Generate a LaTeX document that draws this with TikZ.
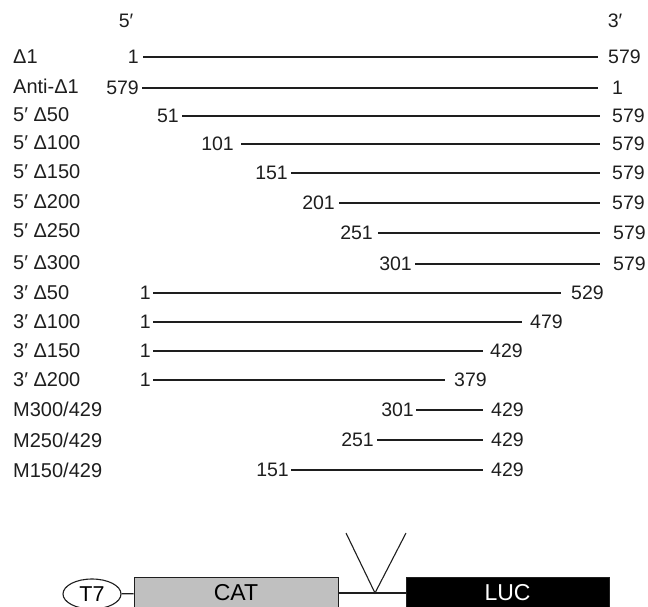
\documentclass[tikz,border=0pt]{standalone}
\usepackage{fontspec}
\setmainfont{Liberation Sans}
\usepackage{xcolor}
\usepackage{tikz}
\usetikzlibrary{shapes.geometric,positioning}
\definecolor{catgray}{RGB}{192,192,192}
\definecolor{inkgray}{RGB}{30,30,30}
\tikzset{
  rowlabel/.style={anchor=west, inner sep=0pt, text=inkgray, font=\fontsize{20}{24}\selectfont},
  endlabel/.style={inner sep=0pt, text=inkgray},
  numl/.style={inner sep=0pt, text=inkgray},
  numr/.style={inner sep=0pt, text=inkgray},
  seg/.style={line width=1.1pt, draw=inkgray},
  promoter/.style={ellipse, draw=inkgray, line width=1.1pt, minimum width=58pt, minimum height=30pt, inner sep=0pt, font=\fontsize{21.5}{24}\selectfont},
  genebox/.style={rectangle, draw=inkgray, line width=1pt, minimum height=32pt, inner sep=0pt, font=\fontsize{23}{26}\selectfont},
  catbox/.style={genebox, fill=catgray, minimum width=204pt},
  lucbox/.style={genebox, fill=black, text=white, minimum width=203pt}
}

\begin{document}
\begin{tikzpicture}[x=1pt, y=-1pt, font=\fontsize{19.5}{23}\selectfont]
\useasboundingbox (0,0) rectangle (648,607);
% strand ends
\node[endlabel] (five) at (126,21) {5′};
\node[endlabel] (three) at (615,21) {3′};

% full length and antisense
\node[rowlabel] (l1) at (13,57) {Δ1};
\coordinate (s1) at (143,57); \coordinate (e1) at (598,57);
\node[numl, left=4pt of s1] (n1) {1}; \node[numr, right=10pt of e1] (m1) {579};
\draw[seg] (s1) -- (e1);

\node[rowlabel] (l2) at (13,86) {Anti-Δ1};
\coordinate (s2) at (142,88); \coordinate (e2) at (598,88);
\node[numl, left=3pt of s2] (n2) {579}; \node[numr, right=14pt of e2] (m2) {1};
\draw[seg] (s2) -- (e2);

% 5' deletions
\node[rowlabel] (l3) at (13,115) {5′ Δ50};
\coordinate (s3) at (182,116); \coordinate (e3) at (600,116);
\node[numl, left=3pt of s3] (n3) {51}; \node[numr, right=12pt of e3] (m3) {579};
\draw[seg] (s3) -- (e3);

\node[rowlabel] (l4) at (13,143) {5′ Δ100};
\coordinate (s4) at (241,144); \coordinate (e4) at (600,144);
\node[numl, left=7pt of s4] (n4) {101}; \node[numr, right=12pt of e4] (m4) {579};
\draw[seg] (s4) -- (e4);

\node[rowlabel] (l5) at (13,172) {5′ Δ150};
\coordinate (s5) at (291,173); \coordinate (e5) at (600,173);
\node[numl, left=3pt of s5] (n5) {151}; \node[numr, right=12pt of e5] (m5) {579};
\draw[seg] (s5) -- (e5);

\node[rowlabel] (l6) at (13,202) {5′ Δ200};
\coordinate (s6) at (339,203); \coordinate (e6) at (600,203);
\node[numl, left=4pt of s6] (n6) {201}; \node[numr, right=12pt of e6] (m6) {579};
\draw[seg] (s6) -- (e6);

\node[rowlabel] (l7) at (13,231) {5′ Δ250};
\coordinate (s7) at (378,233); \coordinate (e7) at (600,233);
\node[numl, left=5pt of s7] (n7) {251}; \node[numr, right=13pt of e7] (m7) {579};
\draw[seg] (s7) -- (e7);

\node[rowlabel] (l8) at (13,263) {5′ Δ300};
\coordinate (s8) at (415,264); \coordinate (e8) at (600,264);
\node[numl, left=3pt of s8] (n8) {301}; \node[numr, right=13pt of e8] (m8) {579};
\draw[seg] (s8) -- (e8);

% 3' deletions
\node[rowlabel] (l9) at (13,293) {3′ Δ50};
\coordinate (s9) at (153,293); \coordinate (e9) at (561,293);
\node[numl, left=2pt of s9] (n9) {1}; \node[numr, right=10pt of e9] (m9) {529};
\draw[seg] (s9) -- (e9);

\node[rowlabel] (l10) at (13,322) {3′ Δ100};
\coordinate (s10) at (153,322); \coordinate (e10) at (522,322);
\node[numl, left=2pt of s10] (n10) {1}; \node[numr, right=8pt of e10] (m10) {479};
\draw[seg] (s10) -- (e10);

\node[rowlabel] (l11) at (13,351) {3′ Δ150};
\coordinate (s11) at (153,351); \coordinate (e11) at (483,351);
\node[numl, left=2pt of s11] (n11) {1}; \node[numr, right=7pt of e11] (m11) {429};
\draw[seg] (s11) -- (e11);

\node[rowlabel] (l12) at (13,380) {3′ Δ200};
\coordinate (s12) at (153,380); \coordinate (e12) at (445,380);
\node[numl, left=2pt of s12] (n12) {1}; \node[numr, right=9pt of e12] (m12) {379};
\draw[seg] (s12) -- (e12);

% internal fragments
\node[rowlabel] (l13) at (13,409) {M300/429};
\coordinate (s13) at (416,410); \coordinate (e13) at (483,410);
\node[numl, left=2pt of s13] (n13) {301}; \node[numr, right=8pt of e13] (m13) {429};
\draw[seg] (s13) -- (e13);

\node[rowlabel] (l14) at (13,440) {M250/429};
\coordinate (s14) at (377,440); \coordinate (e14) at (483,440);
\node[numl, left=3pt of s14] (n14) {251}; \node[numr, right=8pt of e14] (m14) {429};
\draw[seg] (s14) -- (e14);

\node[rowlabel] (l15) at (13,470) {M150/429};
\coordinate (s15) at (291,470); \coordinate (e15) at (483,470);
\node[numl, left=2pt of s15] (n15) {151}; \node[numr, right=8pt of e15] (m15) {429};
\draw[seg] (s15) -- (e15);

% reporter construct
\node[promoter] (t7) at (92,594) {T7};
\node[catbox] (cat) at (236,593) {CAT};
\node[lucbox] (luc) at (507.5,593) {LUC};
\coordinate (vleft) at (346,533); \coordinate (vtip) at (375,593); \coordinate (vright) at (406,533);
\draw[seg] (t7) -- (cat);
\draw[seg] (cat) -- (luc);
\draw[seg] (vleft) -- (vtip) -- (vright);
\end{tikzpicture}
\end{document}
